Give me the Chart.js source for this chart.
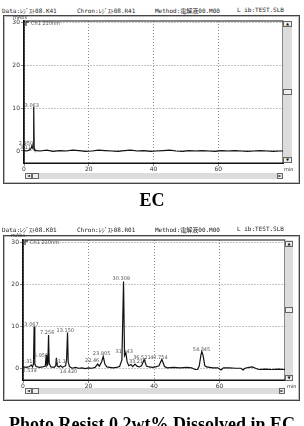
<!DOCTYPE html>
<html>
<head>
<meta charset="utf-8">
<script src="https://cdn.jsdelivr.net/npm/chart.js@4"></script>
<style>
body { margin: 0; width: 304px; height: 426px; overflow: hidden; background: #fff; position: relative; }
.hdr { position: absolute; font: 6px "DejaVu Sans Mono", "Noto Sans CJK JP", monospace; color: #222; white-space: nowrap; }
.frame { position: absolute; left: 3px; width: 295px; border: 1px solid #444; box-shadow: inset 0 0 0 1px #bbb; }
.track { position: absolute; background: #dcdcdc; }
.btn { position: absolute; background: #eee; border: 1px solid #666; box-sizing: border-box; font: 4px "DejaVu Sans"; color: #111; text-align: center; line-height: 4px; }
.unit { position: absolute; font: 5px "DejaVu Sans"; color: #333; }
.cap { position: absolute; left: 0; width: 304px; text-align: center; font: bold 18px "Liberation Serif", serif; color: #000; }
canvas { position: absolute; left: 0; }
</style>
</head>
<body>

<div class="hdr" style="left:2px;top:6px">Data:ﾚｼﾞｽﾄ08.K41</div>
<div class="hdr" style="left:77px;top:6px">Chron:ﾚｼﾞｽﾄ08.R41</div>
<div class="hdr" style="left:155px;top:6px">Method:電解液00.M00</div>
<div class="hdr" style="left:237px;top:6px">L ib:TEST.SLB</div>
<div class="frame" style="top:15px;height:167px"></div>
<canvas id="ecChart" width="304" height="170" style="top:14px"></canvas>
<div class="unit" style="left:13px;top:14px">mAbs</div>
<div class="unit" style="left:284px;top:166px">min</div>
<div class="track" style="left:283px;top:21px;width:9px;height:142px"></div>
<div class="btn" style="left:283px;top:21px;width:9px;height:6px">▲</div>
<div class="btn" style="left:283px;top:89px;width:9px;height:6px"></div>
<div class="btn" style="left:283px;top:157px;width:9px;height:6px">▼</div>
<div class="track" style="left:25px;top:173px;width:258px;height:6px"></div>
<div class="btn" style="left:25px;top:173px;width:7px;height:6px">◄</div>
<div class="btn" style="left:32px;top:173px;width:7px;height:6px"></div>
<div class="btn" style="left:277px;top:173px;width:6px;height:6px">►</div>
<div class="cap" style="top:190px">EC</div>

<div class="hdr" style="left:2px;top:225px">Data:ﾚｼﾞｽﾄ08.K01</div>
<div class="hdr" style="left:77px;top:225px">Chron:ﾚｼﾞｽﾄ08.R01</div>
<div class="hdr" style="left:155px;top:225px">Method:電解液00.M00</div>
<div class="hdr" style="left:237px;top:225px">L ib:TEST.SLB</div>
<div class="frame" style="top:235px;height:164px"></div>
<canvas id="prChart" width="304" height="168" style="top:233px"></canvas>
<div class="unit" style="left:11px;top:232px">mAbs</div>
<div class="unit" style="left:287px;top:383px">min</div>
<div class="track" style="left:285px;top:240px;width:8px;height:141px"></div>
<div class="btn" style="left:285px;top:241px;width:8px;height:6px">▲</div>
<div class="btn" style="left:285px;top:307px;width:8px;height:6px"></div>
<div class="btn" style="left:285px;top:375px;width:8px;height:6px">▼</div>
<div class="track" style="left:25px;top:388px;width:260px;height:6px"></div>
<div class="btn" style="left:25px;top:388px;width:7px;height:6px">◄</div>
<div class="btn" style="left:32px;top:388px;width:7px;height:6px"></div>
<div class="btn" style="left:279px;top:388px;width:6px;height:6px">►</div>
<div class="cap" style="top:414px">Photo Resist 0.2wt% Dissolved in EC</div>

<script>
// axes
const xTicks = [0, 20, 40, 60];
const yTicks = [0, 10, 20, 30];

// EC chromatogram
const ecTime = [0, 0.8, 1.6, 2.2, 2.5, 2.8, 2.95, 3.05, 3.15, 3.3, 3.8,
    5, 7, 9, 11, 13, 15, 17, 19, 21, 23, 25, 27, 29, 31, 33, 35, 37, 39, 41,
    43, 45, 47, 49, 51, 53, 55, 57, 59, 61, 63, 65, 67, 69, 71, 73, 75, 77, 79, 80];
const ecSignal = [0.1, 0.0, 0.2, 0.6, 1.3, 0.5, 0.8, 10.3, 0.6, 0.3, 0.1,
    0.0, 0.2, -0.1, 0.1, 0.0, 0.2, 0.1, -0.1, 0.0, 0.2, 0.1, 0.0, -0.1, 0.1, 0.2, 0.0, 0.1, -0.1, 0.0,
    0.1, 0.2, 0.0, -0.1, 0.1, 0.0, 0.1, 0.0, -0.1, 0.1, 0.0, 0.1, 0.0, -0.1, 0.0, 0.1, 0.0, -0.1, 0.0, 0.0];
const ecLabelText = ['3.063', '2.950', '3.113'];
const ecLabelTime = [2.4, 0.6, 1.0];
const ecLabelLevel = [10.6, 1.7, 0.7];

// Photo resist chromatogram
const prTime = [0, 1, 2, 2.5, 2.9, 3.2, 3.4, 3.6, 4.0, 5, 6, 6.8, 7.1, 7.3, 7.6, 7.8, 8.0, 8.5, 9.5, 10.0,
    10.2, 10.5, 11.0, 11.5, 12, 13.0, 13.3, 13.6, 13.8, 14.2, 15, 16, 17, 18, 19, 20, 21, 22, 22.8, 23.3,
    24.0, 24.5, 25.0, 25.6, 26.5, 27.5, 28.5, 29.5, 30.2, 30.7, 31.0, 31.4, 31.8, 32.3, 33.0, 33.5, 34.2, 34.8, 35.5, 36.2,
    37.0, 37.7, 38.5, 39.5, 40.5, 41.5, 42.4, 43.2, 44, 46, 48, 50, 51.5, 52.5, 53.3, 53.8, 54.3, 54.6, 55.0, 55.5,
    56, 57, 58, 59.5, 60.5, 61.2, 63, 65, 66.5, 67.2, 67.8, 69, 70, 71, 72, 74, 76, 78, 80];
const prSignal = [0.3, 0.2, 0.4, 0.8, 0.3, 1.0, 9.9, 1.0, 0.4, 0.2, 0.3, 0.5, 3.2, 0.6, 1.0, 7.9, 1.2, 0.3, 0.2, 0.6,
    2.5, 0.5, 0.3, 0.6, 0.2, 0.6, 2.0, 8.5, 1.5, 0.4, 0.0, 0.2, 0.0, 0.1, -0.1, 0.1, 0.0, 0.2, 1.0, 0.5,
    1.5, 2.8, 1.0, 0.3, 0.2, 0.1, 0.2, 0.4, 2.0, 20.6, 3.0, 3.7, 1.5, 0.6, 0.9, 0.4, 1.0, 0.5, 0.3, 0.6,
    2.1, 0.5, 0.3, 0.2, 0.3, 0.6, 2.1, 0.4, 0.1, 0.2, 0.1, 0.2, 0.1, -0.3, -0.3, 0.5, 3.0, 4.0, 3.0, 0.6,
    0.3, 0.2, 0.1, 0.1, -0.4, 0.1, 0.1, 0.0, 0.0, -0.4, 0.0, 0.2, 0.3, 0.0, -0.3, -0.2, -0.3, -0.2, -0.3];
const prLabelText = ['2.313', '2.539', '3.067', '5.950', '7.256', '11.1', '13.150', '14.420',
    '22.46', '23.905', '30.309', '31.143', '33.213', '36.521', '40.754', '54.345'];
const prLabelTime = [1.7, 2.0, 2.6, 5.5, 7.4, 11.4, 12.9, 13.9, 21.1, 24.0, 30.0, 30.9, 35.0, 36.3, 41.5, 54.5];
const prLabelLevel = [1.5, -0.5, 10.3, 3.0, 8.5, 1.6, 9.0, -0.9, 1.7, 3.5, 21.4, 4.0, 1.5, 2.6, 2.6, 4.4];

// peak labels, channel name and plot frame
const peakLabels = {
    id: 'peakLabels',
    afterDatasetsDraw(chart, args, opts) {
        const { ctx, chartArea } = chart;
        const x = chart.scales.x, y = chart.scales.y;
        ctx.save();
        ctx.font = '5px "DejaVu Sans"';
        ctx.fillStyle = '#555';
        ctx.textAlign = 'center';
        ctx.textBaseline = 'middle';
        opts.text.forEach((t, i) => {
            ctx.fillText(t, x.getPixelForValue(opts.time[i]), y.getPixelForValue(opts.level[i]));
        });
        ctx.textAlign = 'left';
        ctx.fillText('Ch1 210nm', chartArea.left + 7, chartArea.top + 3);
        ctx.strokeStyle = '#111';
        ctx.lineWidth = 1;
        ctx.beginPath();
        ctx.moveTo(chartArea.left + 2, chartArea.top + 5);
        ctx.lineTo(chartArea.left + 2, chartArea.top + 1);
        ctx.lineTo(chartArea.left + 5, chartArea.top + 1);
        ctx.stroke();
        ctx.strokeRect(chartArea.left, chartArea.top, chartArea.right - chartArea.left, chartArea.bottom - chartArea.top);
        ctx.restore();
    }
};

function makeChart(id, times, signal, yMin, yMax, yWidth, pad, labels) {
    const tickFont = { size: 6, family: 'DejaVu Sans' };
    return new Chart(document.getElementById(id), {
        type: 'line',
        data: {
            datasets: [{
                data: times.map((t, i) => ({ x: t, y: signal[i] })),
                borderColor: '#111',
                borderWidth: 1.2,
                pointRadius: 0,
                tension: 0
            }]
        },
        options: {
            responsive: false,
            animation: false,
            devicePixelRatio: 1,
            layout: { padding: pad },
            plugins: { legend: { display: false }, tooltip: { enabled: false }, peakLabels: labels },
            scales: {
                x: {
                    type: 'linear', min: 0, max: 80,
                    afterBuildTicks: s => { s.ticks = xTicks.map(v => ({ value: v })); },
                    afterFit: s => { s.height = 21; },
                    grid: { color: '#8a8a8a', tickLength: 3 },
                    border: { color: '#111', width: 1, dash: [1, 2] },
                    ticks: { font: tickFont, color: '#333', padding: 0, maxRotation: 0, autoSkip: false }
                },
                y: {
                    min: yMin, max: yMax,
                    afterBuildTicks: s => { s.ticks = yTicks.map(v => ({ value: v })); },
                    afterFit: s => { s.width = yWidth; },
                    grid: { color: '#8a8a8a', tickLength: 3 },
                    border: { color: '#111', width: 1.5, dash: [1, 2] },
                    ticks: { font: tickFont, color: '#333', padding: 1 }
                }
            }
        },
        plugins: [peakLabels]
    });
}

makeChart('ecChart', ecTime, ecSignal, -2.8, 30.3, 24,
    { top: 7, right: 21, left: 0, bottom: 0 },
    { text: ecLabelText, time: ecLabelTime, level: ecLabelLevel });
makeChart('prChart', prTime, prSignal, -2.8, 30.5, 23,
    { top: 7, right: 19, left: 0, bottom: 0 },
    { text: prLabelText, time: prLabelTime, level: prLabelLevel });
</script>
</body>
</html>
